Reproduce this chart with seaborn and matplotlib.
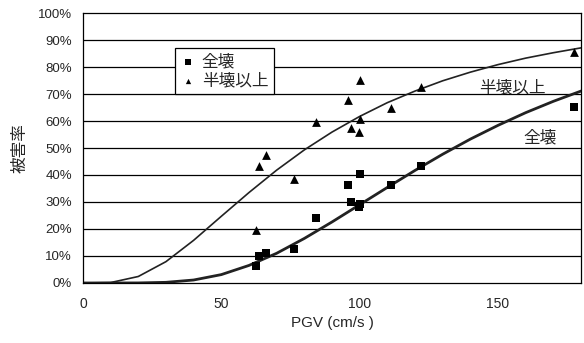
import pandas as pd
import seaborn as sns
import matplotlib.pyplot as plt
import numpy as np

# observed points (PGV, damage ratio)
pgv_obs = [62.4, 63.5, 66.1, 76.2, 84.3, 95.8, 97.0, 99.9, 100.1, 100.1, 111.3, 122.1, 177.6]
zenkai_obs = [0.064, 0.100, 0.112, 0.126, 0.242, 0.363, 0.300, 0.280, 0.293, 0.404, 0.362, 0.435, 0.653]
hankai_obs = [0.196, 0.434, 0.473, 0.384, 0.596, 0.678, 0.573, 0.558, 0.606, 0.751, 0.647, 0.725, 0.854]

# fragility curves
pgv_curve = [0, 10, 20, 30, 40, 50, 60, 70, 80, 90, 100, 110, 120, 130, 140, 150, 160, 170, 180]
zenkai_curve = [0, 0, 0.0002, 0.0024, 0.011, 0.031, 0.065, 0.110, 0.165, 0.226, 0.290,
                0.354, 0.417, 0.477, 0.533, 0.584, 0.631, 0.673, 0.711]
hankai_curve = [0, 0.0015, 0.024, 0.079, 0.158, 0.247, 0.335, 0.418, 0.493, 0.559, 0.617,
                0.668, 0.711, 0.749, 0.781, 0.809, 0.833, 0.853, 0.871]

sns.set_style('white')
plt.rcParams['font.family'] = ['Liberation Sans', 'Noto Sans CJK JP', 'DejaVu Sans']

df_curve = pd.DataFrame({'pgv': pgv_curve, 'zenkai': zenkai_curve, 'hankai': hankai_curve})
df_obs = pd.DataFrame({'pgv': pgv_obs, 'zenkai': zenkai_obs, 'hankai': hankai_obs})

fig = plt.figure(figsize=(5.84, 3.43), dpi=100)
ax = fig.add_axes([0.142, 0.175, 0.853, 0.787])

# horizontal grid
for v in np.arange(0.1, 1.0, 0.1):
    ax.axhline(v, color='black', lw=0.9, zorder=0)

sns.lineplot(data=df_curve, x='pgv', y='hankai', color='#222222', lw=1.2, ax=ax, zorder=2)
sns.lineplot(data=df_curve, x='pgv', y='zenkai', color='#222222', lw=2.0, ax=ax, zorder=2)

sns.scatterplot(data=df_obs, x='pgv', y='zenkai', marker='s', s=40, color='black',
                edgecolor='black', linewidth=0, ax=ax, label='全壊', zorder=3)
sns.scatterplot(data=df_obs, x='pgv', y='hankai', marker='^', s=40, color='black',
                edgecolor='black', linewidth=0, ax=ax, label='半壊以上', zorder=3)

leg = ax.legend(loc='upper left', bbox_to_anchor=(0.185, 0.87), fontsize=12,
                frameon=True, fancybox=False, framealpha=1, edgecolor='black',
                handletextpad=0.35, borderpad=0.35, labelspacing=0.2, handlelength=0.9,
                markerscale=0.6, borderaxespad=0)
leg.get_frame().set_linewidth(0.9)

ax.text(143, 0.722, '半壊以上', fontsize=12, ha='left', va='center')
ax.text(159, 0.537, '全壊', fontsize=12, ha='left', va='center')

ax.set_xlim(0, 180)
ax.set_ylim(0, 1.0)
ax.set_xticks([0, 50, 100, 150])
ax.set_yticks(np.arange(0, 1.01, 0.1))
ax.set_yticklabels([f'{int(round(v * 100))}%' for v in np.arange(0, 1.01, 0.1)])
ax.tick_params(axis='x', direction='in', length=4, width=0.8, labelsize=10, pad=10, color='black')
ax.tick_params(axis='y', length=0, labelsize=9.5, pad=8)
for sp in ax.spines.values():
    sp.set_color('black')
    sp.set_linewidth(0.9)

ax.set_xlabel('PGV (cm/s )', fontsize=11, labelpad=4)
ax.set_ylabel('被害率', fontsize=12, labelpad=7)

fig.savefig('out.png', dpi=100)
